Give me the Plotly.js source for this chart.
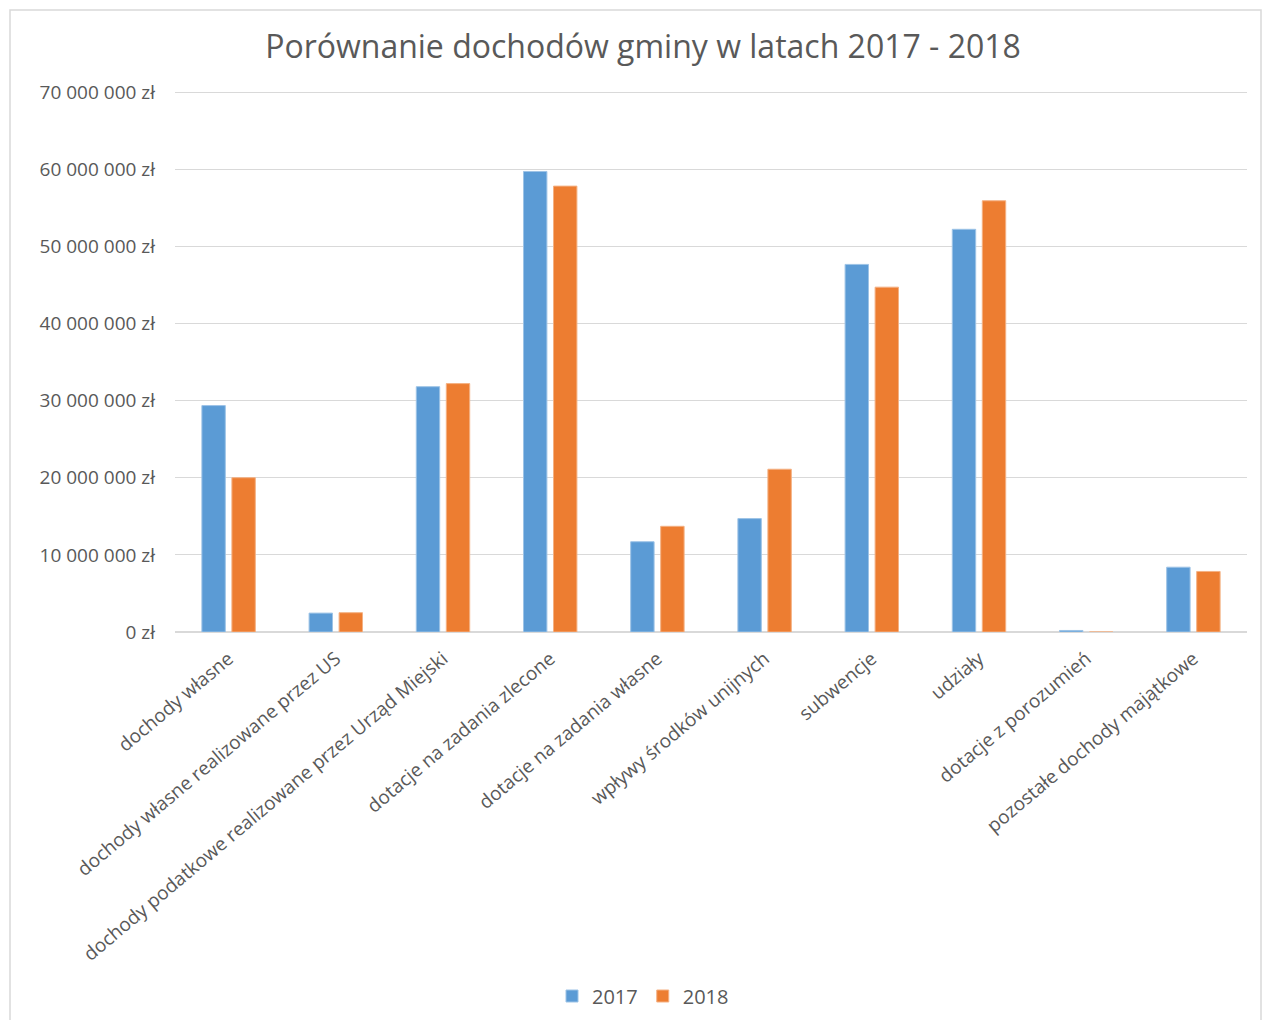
<!DOCTYPE html>
<html>
<head>
<meta charset="utf-8">
<script src="https://cdn.plot.ly/plotly-3.0.1.min.js"></script>
<style>
  html, body { margin: 0; padding: 0; background: #ffffff; }
  #chart { width: 1263px; height: 1020px; }
</style>
</head>
<body>
<div id="chart"></div>
<script>
const categories = [
  "dochody własne",
  "dochody własne realizowane przez US",
  "dochody podatkowe realizowane przez Urząd Miejski",
  "dotacje na zadania zlecone",
  "dotacje na zadania własne",
  "wpływy środków unijnych",
  "subwencje",
  "udziały",
  "dotacje z porozumień",
  "pozostałe dochody majątkowe"
];
const values2017 = [29350000, 2450000, 31800000, 59700000, 11700000, 14700000, 47650000, 52200000, 200000, 8400000];
const values2018 = [20000000, 2500000, 32200000, 57800000, 13700000, 21100000, 44700000, 55900000, 0, 7850000];
const seriesNames = ["2017", "2018"];
const yTickValues = [0, 10000000, 20000000, 30000000, 40000000, 50000000, 60000000, 70000000];
const yTickLabels = ["0 zł", "10 000 000 zł", "20 000 000 zł", "30 000 000 zł", "40 000 000 zł", "50 000 000 zł", "60 000 000 zł", "70 000 000 zł"];
const titleText = "Porównanie dochodów gminy w latach 2017 - 2018";

const textColor = "#595959";
const fontFamily = "'Open Sans', 'Liberation Sans', sans-serif";

const traces = [
  {
    type: "bar",
    name: seriesNames[0],
    x: categories,
    y: values2017,
    marker: { color: "#5B9BD5", line: { color: "#9DC3E6", width: 1 } }
  },
  {
    type: "bar",
    name: seriesNames[1],
    x: categories,
    y: values2018,
    marker: { color: "#ED7D31", line: { color: "#F4B183", width: 1 } }
  }
];

const L = 175, R = 1247, T = 88, B = 632, W = 1263, H = 1020;
const pw = R - L, ph = B - T;

const layout = {
  width: W,
  height: H,
  margin: { l: L, r: W - R, t: T, b: H - B, pad: 0, autoexpand: false },
  paper_bgcolor: "#ffffff",
  plot_bgcolor: "#ffffff",
  font: { family: fontFamily, color: textColor, size: 19 },
  title: {
    text: titleText,
    font: { family: fontFamily, size: 32, color: textColor },
    xref: "container",
    yref: "container",
    x: 643 / W,
    y: 1 - 47 / H,
    xanchor: "center",
    yanchor: "middle"
  },
  barmode: "group",
  bargap: 0.44,
  bargroupgap: 0.22,
  xaxis: {
    type: "category",
    tickangle: -40,
    tickfont: { family: fontFamily, size: 19, color: textColor },
    showgrid: false,
    showline: false,
    ticks: "",
    ticklabelstandoff: 11,
    automargin: false
  },
  yaxis: {
    range: [0, 70518500],
    tickmode: "array",
    tickvals: yTickValues,
    ticktext: yTickLabels,
    tickfont: { family: fontFamily, size: 19, color: textColor },
    showgrid: true,
    gridcolor: "#d9d9d9",
    gridwidth: 1,
    zeroline: true,
    zerolinecolor: "#d9d9d9",
    zerolinewidth: 1.5,
    showline: false,
    ticks: "",
    ticklabelstandoff: 19,
    automargin: false
  },
  showlegend: true,
  legend: {
    orientation: "h",
    xref: "container",
    yref: "container",
    x: 643 / W,
    y: 1 - 996 / H,
    xanchor: "center",
    yanchor: "middle",
    font: { family: fontFamily, size: 20, color: textColor },
    itemwidth: 30,
    traceorder: "normal"
  },
  shapes: [
    {
      type: "rect",
      xref: "paper",
      yref: "paper",
      x0: (10 - L) / pw,
      x1: (1261 - L) / pw,
      y0: (B - 1030) / ph,
      y1: (B - 10) / ph,
      line: { color: "#d9d9d9", width: 1.5 },
      fillcolor: "rgba(0,0,0,0)",
      layer: "below"
    }
  ]
};

Plotly.newPlot("chart", traces, layout, { staticPlot: true, displayModeBar: false });
</script>
</body>
</html>
